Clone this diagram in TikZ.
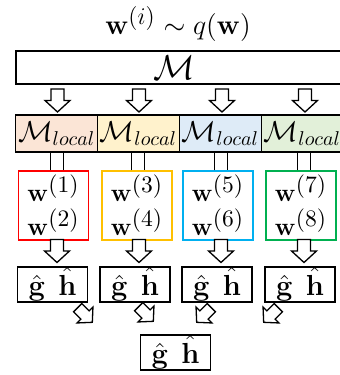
\documentclass[tikz,border=0pt]{standalone}
\usepackage{fix-cm}
\usepackage{amsmath}
\definecolor{fillA}{HTML}{FBE5D6}
\definecolor{fillB}{HTML}{FFF2CC}
\definecolor{fillC}{HTML}{DEEBF7}
\definecolor{fillD}{HTML}{E2F0D9}
\definecolor{edgeA}{HTML}{FF0000}
\definecolor{edgeB}{HTML}{FFC000}
\definecolor{edgeC}{HTML}{00B0F0}
\definecolor{edgeD}{HTML}{00B050}
\tikzset{
  frame/.style={draw, line width=0.65pt, inner sep=0pt},
  topbox/.style={frame, minimum width=164.5pt, minimum height=16.5pt, font=\fontsize{17.28}{20}\selectfont},
  localbox/.style={frame, minimum width=41pt, minimum height=18.5pt, font=\fontsize{14.4}{17}\selectfont},
  wbox/.style={frame, fill=white, line width=0.75pt, minimum width=35pt, minimum height=34.5pt, align=center, font=\fontsize{12.6}{15}\selectfont},
  ghbox/.style={frame, fill=white, minimum width=35pt, minimum height=17.5pt, font=\fontsize{14.5}{17}\selectfont},
  barrow/.pic={\draw[fill=white, line width=0.65pt] (-11.5,-6.5) -- (0,-6.5) -- (0,-12.5) -- (11.5,0) -- (0,12.5) -- (0,6.5) -- (-11.5,6.5) -- cycle;},
  stem/.style={draw, line width=0.65pt}
}
\newcommand{\bigsup}[2]{^{\text{\fontsize{#1}{#1}\selectfont$#2$}}}
\newcommand{\wsample}[1]{$\mathbf{w}\bigsup{11.8}{(#1)}$}
\newcommand{\gh}{$\hat{\mathbf{g}}\;\,\hat{\mathbf{h}}$}
\begin{document}
\begin{tikzpicture}[x=0.5pt, y=-0.5pt]
\useasboundingbox (0,0) rectangle (340,375);
\node[font=\fontsize{14}{16}\selectfont] (title) at (178,24) {$\mathbf{w}\bigsup{12}{(i)}\sim q(\mathbf{w})$};
\node[topbox] (M) at (180.5,67.5) {\hspace*{-6pt}$\mathcal{M}$};
% arrows M -> local
\pic[rotate=-90] at (57.5,100.5) {barrow};
\pic[rotate=-90] at (139,100.5) {barrow};
\pic[rotate=-90] at (222,100.5) {barrow};
\pic[rotate=-90] at (305,100.5) {barrow};
% local models
\node[localbox, fill=fillA] (L1) at (56.75,133.5) {$\mathcal{M}_{local}$};
\node[localbox, fill=fillB] (L2) at (138.5,133.5) {$\mathcal{M}_{local}$};
\node[localbox, fill=fillC] (L3) at (220.5,133.5) {$\mathcal{M}_{local}$};
\node[localbox, fill=fillD] (L4) at (302.5,133.5) {$\mathcal{M}_{local}$};
% sample boxes
\node[wbox, draw=edgeA] (W1) at (53.5,205.5) {\wsample{1}\\[2pt]\wsample{2}};
\node[wbox, draw=edgeB] (W2) at (137,205.5) {\wsample{3}\\[2pt]\wsample{4}};
\node[wbox, draw=edgeC] (W3) at (218,205.5) {\wsample{5}\\[2pt]\wsample{6}};
\node[wbox, draw=edgeD] (W4) at (301,205.5) {\wsample{7}\\[2pt]\wsample{8}};
% stems local -> samples
\foreach \i/\x in {1/57,2/138,3/221,4/304}{
  \draw[stem] (\x-6.5,0 |- W\i.north) -- (\x-6.5,0 |- L\i.south) -- (\x+6.5,0 |- L\i.south) -- (\x+6.5,0 |- W\i.north);
}
% arrows samples -> estimates
\pic[rotate=-90] at (57,251) {barrow};
\pic[rotate=-90] at (139,251) {barrow};
\pic[rotate=-90] at (221,251) {barrow};
\pic[rotate=-90] at (304,251) {barrow};
% estimates
\node[ghbox] (G1) at (52.5,284.5) {\gh};
\node[ghbox] (G2) at (135,284.5) {\gh};
\node[ghbox] (G3) at (217,284.5) {\gh};
\node[ghbox] (G4) at (300,284.5) {\gh};
% diagonal arrows
\pic[rotate=-45, scale=0.9] at (85,315) {barrow};
\pic[rotate=-45, scale=0.9] at (146,314) {barrow};
\pic[rotate=-135, scale=0.9] at (204,315) {barrow};
\pic[rotate=-135, scale=0.9] at (271,315) {barrow};
% aggregate
\node[ghbox] (G) at (175.5,352.5) {\gh};
\end{tikzpicture}
\end{document}
